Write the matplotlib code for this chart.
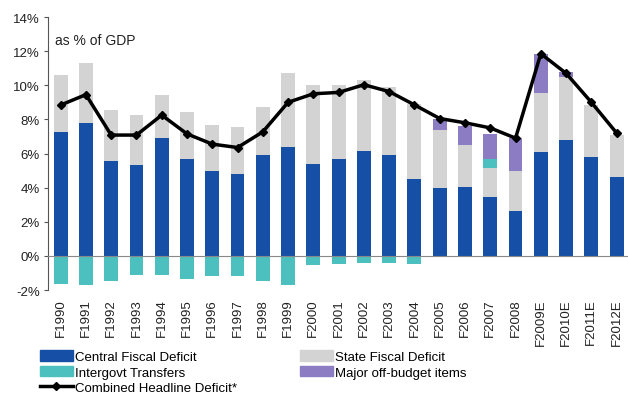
import matplotlib
matplotlib.use("Agg")
import matplotlib.pyplot as plt
import numpy as np
from matplotlib.patches import Patch
from matplotlib.lines import Line2D

plt.rcParams['font.family'] = ['Liberation Sans', 'DejaVu Sans']

years = ['F1990', 'F1991', 'F1992', 'F1993', 'F1994', 'F1995', 'F1996', 'F1997',
         'F1998', 'F1999', 'F2000', 'F2001', 'F2002', 'F2003', 'F2004', 'F2005',
         'F2006', 'F2007', 'F2008', 'F2009E', 'F2010E', 'F2011E', 'F2012E']
central = [7.25, 7.8, 5.55, 5.3, 6.9, 5.7, 5.0, 4.8, 5.9, 6.4, 5.37, 5.67, 6.12,
           5.94, 4.49, 4.0, 4.04, 3.45, 2.65, 6.1, 6.8, 5.82, 4.64]
state = [3.35, 3.5, 3.0, 2.95, 2.55, 2.75, 2.65, 2.75, 2.85, 4.3, 4.63, 4.33, 4.18,
         3.96, 4.41, 3.4, 2.46, 1.7, 2.35, 3.45, 3.7, 3.03, 2.46]
intergov = [-1.65, -1.7, -1.5, -1.12, -1.12, -1.35, -1.16, -1.2, -1.45, -1.7, -0.55,
            -0.45, -0.4, -0.4, -0.45, 0, 0, 0.5, 0, 0, 0, 0, 0]
offbudget = [0, 0, 0, 0, 0, 0, 0, 0, 0, 0, 0, 0, 0, 0, 0, 0.6, 1.1, 1.5, 1.9, 2.3,
             0.3, 0, 0]
combined = [8.84, 9.45, 7.08, 7.08, 8.25, 7.15, 6.55, 6.35, 7.27, 9.0, 9.5, 9.58,
            10.03, 9.63, 8.85, 8.05, 7.8, 7.5, 6.9, 11.85, 10.7, 9.0, 7.2]

c_central = '#1550A6'
c_state = '#D3D3D3'
c_inter = '#4CC0BE'
c_off = '#8C7CC4'

fig = plt.figure(figsize=(6.28, 4.02), dpi=100)
ax = fig.add_axes([48/628, 1-291/402, 1-48/628, (291-18)/402])

x = np.arange(len(years))
w = 0.55
central = np.array(central)
state = np.array(state)
intergov = np.array(intergov)
offbudget = np.array(offbudget)
neg = np.minimum(intergov, 0)
pos = np.maximum(intergov, 0)

ax.bar(x, central, w, color=c_central, zorder=2)
ax.bar(x, state, w, bottom=central, color=c_state, zorder=2)
ax.bar(x, pos, w, bottom=central + state, color=c_inter, zorder=2)
ax.bar(x, offbudget, w, bottom=central + state + pos, color=c_off, zorder=2)
ax.bar(x, neg, w, color=c_inter, zorder=2)
ax.plot(x, combined, color='black', lw=2.5, marker='D', ms=4.5, zorder=4)

ax.axhline(0, color='#888888', lw=0.8, zorder=3)

ax.set_xlim(-0.5, 22.45)
ax.set_ylim(-2, 14)
ax.set_yticks(np.arange(-2, 15, 2))
ax.set_yticklabels([f'{v}%' for v in range(-2, 15, 2)], fontsize=9.5, color='#222222')
ax.set_xticks(x)
ax.set_xticklabels(years, rotation=90, fontsize=9.5, color='#222222')
ax.tick_params(axis='x', length=0, pad=6)
ax.tick_params(axis='y', length=3, width=0.8, color='#555555', pad=3)
for s in ['top', 'right', 'bottom']:
    ax.spines[s].set_visible(False)
ax.spines['left'].set_color('#555555')
ax.spines['left'].set_linewidth(0.8)

ax.text(-0.22, 12.65, 'as % of GDP', fontsize=10, color='#222222', va='center')

h1 = [Patch(color=c_central), Patch(color=c_inter),
      Line2D([], [], color='black', lw=2.5, marker='D', ms=4.5)]
l1 = ['Central Fiscal Deficit', 'Intergovt Transfers', 'Combined Headline Deficit*']
h2 = [Patch(color=c_state), Patch(color=c_off)]
l2 = ['State Fiscal Deficit', 'Major off-budget items']
kw = dict(frameon=False, fontsize=9.5, handlelength=2.5, handleheight=0.85,
          handletextpad=0.15, labelspacing=0.22, borderpad=0, borderaxespad=0)
leg1 = fig.legend(h1, l1, loc='upper left', bbox_to_anchor=(40/628, 1-351/402), **kw)
leg2 = fig.legend(h2, l2, loc='upper left', bbox_to_anchor=(300/628, 1-351/402), **kw)

fig.savefig('out.png', dpi=100)
